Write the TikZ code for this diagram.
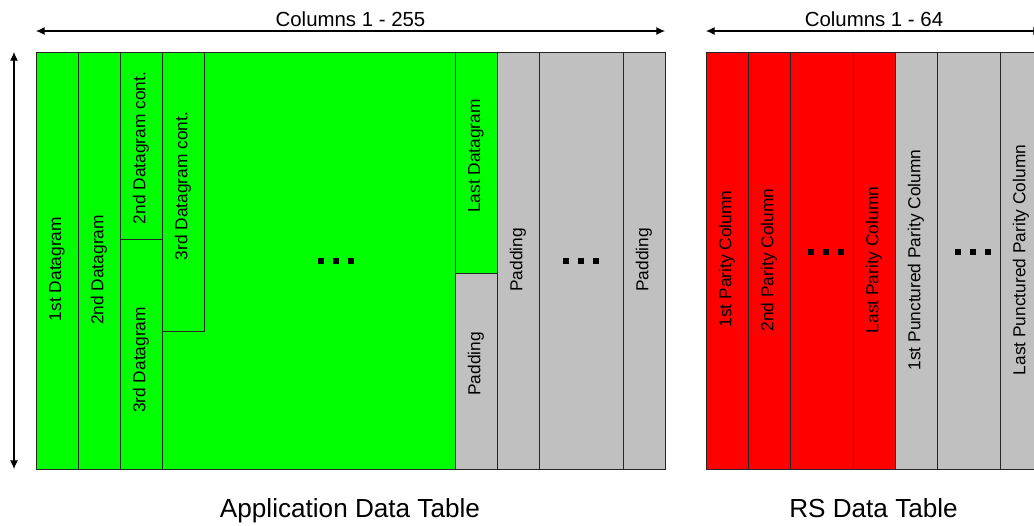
\documentclass[tikz,border=0pt]{standalone}
\usepackage{fontspec}
\setmainfont{Liberation Sans}
\usetikzlibrary{fit,arrows.meta}
\definecolor{datagreen}{HTML}{00FF00}
\definecolor{parityred}{HTML}{FF0000}
\definecolor{padgray}{HTML}{C0C0C0}
\definecolor{rule}{HTML}{262626}
\begin{document}
\begin{tikzpicture}[x=0.75pt,y=-0.75pt,
  cell/.style={draw=rule, line width=0.75pt, inner sep=0pt, outer sep=0pt},
  greencell/.style={cell, fill=datagreen},
  redcell/.style={cell, fill=parityred},
  graycell/.style={cell, fill=padgray},
  lbl/.style={rotate=90, font=\fontsize{13}{15}\selectfont, inner sep=0pt},
  dotsq/.style={fill=black, minimum size=4.6pt, inner sep=0pt, outer sep=0pt},
  span/.style={line width=0.8pt, {Latex[length=6.5pt,width=6pt]}-{Latex[length=6.5pt,width=6pt]}},
  headline/.style={font=\fontsize{15.3}{18}\selectfont, anchor=base, inner sep=0pt},
  title/.style={font=\fontsize{19.6}{23}\selectfont, anchor=base, inner sep=0pt}]
\useasboundingbox (0,0) rectangle (1034,525);
\clip (0,0) rectangle (1034,525);

% ---------- Application data table ----------
\node[greencell, fit={(36,52) (78,469)}] (d1) {};
\node[greencell, fit={(78,52) (120,469)}] (d2) {};
\node[greencell, fit={(120,52) (162,239)}] (d2c) {};
\node[greencell, fit={(120,239) (162,469)}] (d3) {};
\node[greencell, fit={(162,52) (455,469)}] (dmid) {};
\node[greencell, fit={(162,52) (204,331)}] (d3c) {};
\node[greencell, fit={(455,52) (497,273)}] (dlast) {};
\node[graycell, fit={(455,273) (497,469)}] (p1) {};
\node[graycell, fit={(497,52) (539,469)}] (p2) {};
\node[graycell, fit={(539,52) (623,469)}] (pmid) {};
\node[graycell, fit={(623,52) (665,469)}] (p3) {};

\node[lbl] at (57,269) {1st Datagram};
\node[lbl] at (99,270) {2nd Datagram};
\node[lbl] at (141,148) {2nd Datagram cont.};
\node[lbl] at (141,360) {3rd Datagram};
\node[lbl] at (183,186) {3rd Datagram cont.};
\node[lbl] at (476,156) {Last Datagram};
\node[lbl] at (476,364) {Padding};
\node[lbl] at (518,260) {Padding};
\node[lbl] at (644,260) {Padding};

% ---------- RS data table ----------
\node[redcell, fit={(706,52) (748,469)}] (r1) {};
\node[redcell, fit={(748,52) (790,469)}] (r2) {};
\node[redcell, fit={(790,52) (853,469)}] (rmid) {};
\node[redcell, fit={(853,52) (895,469)}] (rlast) {};
\node[graycell, fit={(895,52) (937,469)}] (u1) {};
\node[graycell, fit={(937,52) (1000,469)}] (umid) {};
\node[graycell, fit={(1000,52) (1042,469)}] (ulast) {};

\node[lbl] at (727,259) {1st Parity Column};
\node[lbl] at (769,260) {2nd Parity Column};
\node[lbl] at (874,260) {Last Parity Column};
\node[lbl] at (916,260) {1st Punctured Parity Column};
\node[lbl] at (1021,260) {Last Punctured Parity Column};

% ellipsis marks in the omitted column ranges
\foreach \n/\cx/\cy in {a/335.7/260.7, b/580.7/260.7, c/826/252.3, d/972.7/252.3}{
  \node[dotsq] (dot\n1) at (\cx-15,\cy) {};
  \node[dotsq] (dot\n2) at (\cx,\cy) {};
  \node[dotsq] (dot\n3) at (\cx+15,\cy) {};
}

% ---------- dimension arrows ----------
\coordinate (appL) at (36,31);
\coordinate (appR) at (665,31);
\coordinate (rsL) at (706,31);
\coordinate (rsR) at (1042,31);
\coordinate (rowT) at (14,52);
\coordinate (rowB) at (14,469);
\draw[span] (appL) -- (appR);
\draw[span] (rsL) -- (rsR);
\draw[span] (rowT) -- (rowB);

\node[headline] (colsApp) at (350.5,26.5) {Columns 1 - 255};
\node[headline] (colsRS) at (874,26.5) {Columns 1 - 64};

% ---------- table titles ----------
\node[title] (tApp) at (350,517.3) {Application Data Table};
\node[title] (tRS) at (873.5,517.3) {RS Data Table};
\end{tikzpicture}
\end{document}
